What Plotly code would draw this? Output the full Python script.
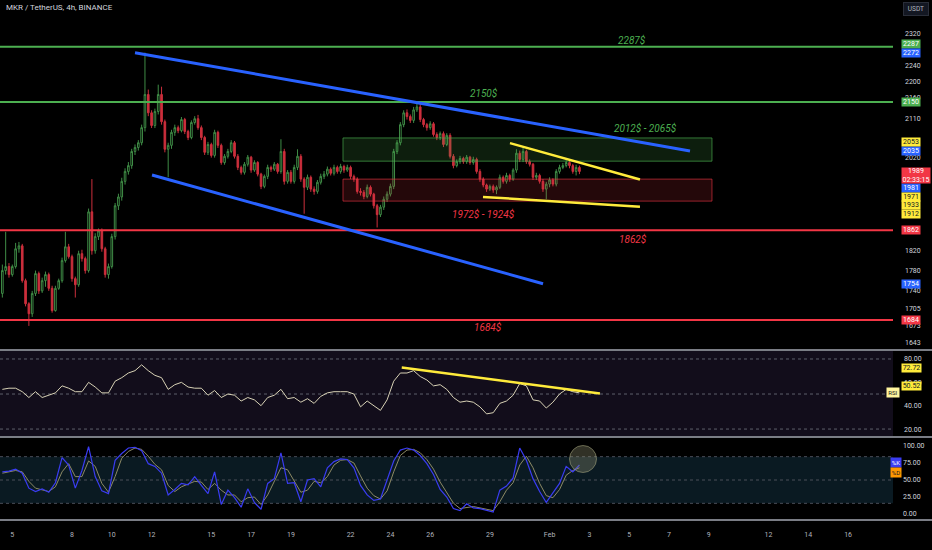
import math
import pandas as pd
import plotly.graph_objects as go

# MKR / USDT 4h candles (first candle 2024-01-04 12:00)
opens = [1735, 1780, 1788, 1772, 1788, 1824, 1830, 1760, 1715, 1696,
         1735, 1774, 1740, 1760, 1772, 1745, 1702, 1745, 1760, 1800,
         1828, 1808, 1764, 1752, 1814, 1804, 1780, 1901, 1820, 1849,
         1861, 1824, 1772, 1788, 1849, 1914, 1933, 1967, 1989, 2002,
         2034, 2043, 2054, 2089, 2168, 2124, 2094, 2127, 2168, 2103,
         2039, 2048, 2078, 2089, 2082, 2108, 2080, 2066, 2101, 2110,
         2089, 2066, 2032, 2050, 2025, 2078, 2048, 2009, 2023, 2034,
         2054, 2023, 1998, 1987, 2005, 2021, 1992, 2009, 1983, 1956,
         1978, 1998, 1994, 2005, 1989, 2034, 1967, 1987, 1967, 1998,
         2023, 1972, 1954, 1976, 1950, 1945, 1965, 1978, 1983, 1994,
         1985, 1998, 1989, 2000, 1992, 1998, 1978, 1972, 1945, 1943,
         1934, 1954, 1939, 1914, 1895, 1911, 1928, 1939, 1956, 2034,
         2054, 2096, 2124, 2115, 2106, 2131, 2138, 2108, 2096, 2089,
         2098, 2073, 2066, 2075, 2050, 2071, 2023, 2002, 2011, 2018,
         2011, 2021, 2009, 2016, 1989, 1972, 1959, 1950, 1956, 1948,
         1954, 1976, 1967, 1980, 1972, 1992, 2030, 2016, 2034, 2011,
         2005, 1976, 1980, 1967, 1950, 1961, 1970, 1961, 1989, 1998,
         2002, 2009, 2002, 1989, 1998]
closes = [1780, 1788, 1772, 1788, 1824, 1830, 1760, 1715, 1696, 1735,
          1774, 1740, 1760, 1772, 1745, 1702, 1745, 1760, 1800, 1828,
          1808, 1764, 1752, 1814, 1804, 1780, 1901, 1820, 1849, 1861,
          1824, 1772, 1788, 1849, 1914, 1933, 1967, 1989, 2002, 2034,
          2043, 2054, 2089, 2168, 2124, 2094, 2127, 2168, 2103, 2039,
          2048, 2078, 2089, 2082, 2108, 2080, 2066, 2101, 2110, 2089,
          2066, 2032, 2050, 2025, 2078, 2048, 2009, 2023, 2034, 2054,
          2023, 1998, 1987, 2005, 2021, 1992, 2009, 1983, 1956, 1978,
          1998, 1994, 2005, 1989, 2034, 1967, 1987, 1967, 1998, 2023,
          1972, 1954, 1976, 1950, 1945, 1965, 1978, 1983, 1994, 1985,
          1998, 1989, 2000, 1992, 1998, 1978, 1972, 1945, 1943, 1934,
          1954, 1939, 1914, 1895, 1911, 1928, 1939, 1956, 2034, 2054,
          2096, 2124, 2115, 2106, 2131, 2138, 2108, 2096, 2089, 2098,
          2073, 2066, 2075, 2050, 2071, 2023, 2002, 2011, 2018, 2011,
          2021, 2009, 2016, 1989, 1972, 1959, 1950, 1956, 1948, 1954,
          1976, 1967, 1980, 1972, 1992, 2030, 2016, 2034, 2011, 2005,
          1976, 1980, 1967, 1950, 1961, 1970, 1961, 1989, 1998, 2002,
          2009, 2002, 1989, 1998, 1989]
highs = [1792, 1859, 1795, 1792, 1836, 1838, 1834, 1764, 1718, 1740,
         1780, 1778, 1766, 1778, 1776, 1750, 1750, 1764, 1806, 1859,
         1834, 1812, 1768, 1820, 1822, 1808, 1908, 1972, 1856, 1866,
         1866, 1828, 1794, 1855, 1920, 1940, 1975, 1996, 2010, 2040,
         2050, 2060, 2096, 2272, 2180, 2130, 2134, 2192, 2187, 2108,
         2054, 2084, 2096, 2094, 2114, 2112, 2084, 2106, 2116, 2119,
         2094, 2070, 2056, 2054, 2084, 2082, 2052, 2028, 2040, 2060,
         2058, 2028, 2002, 2010, 2026, 2024, 2014, 2012, 1986, 1982,
         2004, 2002, 2010, 2008, 2062, 2040, 1992, 1992, 2004, 2039,
         2028, 1976, 1982, 1980, 1956, 1970, 1984, 1990, 2000, 1998,
         2004, 2002, 2006, 2004, 2004, 2002, 1982, 1976, 1952, 1948,
         1960, 1958, 1942, 1918, 1916, 1934, 1945, 1962, 2040, 2060,
         2102, 2130, 2132, 2120, 2138, 2150, 2146, 2112, 2100, 2104,
         2102, 2078, 2080, 2080, 2076, 2076, 2028, 2016, 2024, 2022,
         2026, 2024, 2022, 2020, 1994, 1976, 1962, 1960, 1960, 1958,
         1982, 1980, 1986, 1984, 1996, 2039, 2036, 2043, 2038, 2016,
         2008, 1986, 1984, 1972, 1966, 1976, 1974, 1994, 2004, 2008,
         2014, 2014, 2006, 2004, 2002]
lows = [1727, 1772, 1766, 1768, 1784, 1816, 1756, 1710, 1673, 1690,
        1730, 1734, 1736, 1748, 1740, 1698, 1700, 1742, 1756, 1796,
        1804, 1758, 1727, 1748, 1798, 1774, 1776, 1812, 1814, 1842,
        1818, 1766, 1764, 1784, 1843, 1905, 1925, 1960, 1982, 1995,
        2026, 2036, 2048, 2080, 2116, 2088, 2088, 2120, 2096, 2032,
        1976, 2040, 2070, 2076, 2078, 2074, 2060, 2062, 2096, 2084,
        2060, 2026, 2026, 2020, 2020, 2042, 2004, 2004, 2018, 2030,
        2018, 1992, 1982, 1982, 2000, 1986, 1988, 1978, 1950, 1952,
        1972, 1988, 1990, 1984, 1984, 1960, 1962, 1962, 1962, 1992,
        1966, 1897, 1948, 1944, 1938, 1940, 1960, 1972, 1978, 1980,
        1980, 1984, 1984, 1986, 1988, 1972, 1966, 1940, 1936, 1928,
        1930, 1934, 1908, 1868, 1890, 1905, 1922, 1934, 1950, 2028,
        2048, 2090, 2108, 2100, 2100, 2126, 2102, 2090, 2082, 2084,
        2068, 2060, 2060, 2044, 2046, 2018, 1996, 1998, 2006, 2006,
        2006, 2004, 2004, 1984, 1966, 1954, 1944, 1946, 1942, 1939,
        1950, 1962, 1962, 1966, 1968, 1986, 2010, 2010, 2006, 2000,
        1970, 1970, 1962, 1944, 1928, 1954, 1956, 1956, 1984, 1994,
        1998, 1996, 1984, 1980, 1983]

# indicators, read every second candle (8h)
rsi = [54, 55, 55, 52, 47, 52, 47, 49, 51, 57,
       55, 52, 52, 60, 56, 51, 51, 61, 64, 68,
       70, 75, 70, 66, 64, 54, 58, 60, 56, 55,
       55, 49, 53, 47, 50, 49, 44, 47, 45, 40,
       47, 49, 54, 46, 47, 43, 46, 42, 48, 51,
       52, 52, 52, 50, 39, 44, 40, 36, 45, 61,
       68, 68, 70, 65, 62, 57, 58, 54, 47, 43,
       44, 43, 39, 33, 34, 42, 44, 49, 59, 57,
       45, 44, 38, 43, 50, 54, 52, 51]
stoch_k = [62, 63, 66, 60, 38, 33, 37, 32, 46, 83,
           72, 38, 64, 99, 55, 34, 30, 79, 89, 97,
           98, 93, 74, 70, 60, 28, 36, 45, 43, 55,
           42, 30, 62, 14, 35, 24, 10, 37, 17, 7,
           45, 52, 90, 45, 46, 18, 50, 52, 40, 68,
           77, 81, 80, 68, 42, 28, 20, 22, 50, 78,
           94, 97, 94, 86, 74, 58, 36, 25, 8, 5,
           15, 9, 8, 5, 3, 35, 41, 53, 97, 79,
           52, 33, 17, 31, 45, 70, 62, 72]
stoch_d = [60, 62, 64, 62, 48, 38, 35, 33, 40, 62,
           74, 55, 55, 78, 70, 45, 32, 55, 82, 92,
           97, 95, 85, 73, 65, 42, 33, 40, 44, 48,
           47, 36, 45, 35, 28, 28, 18, 24, 25, 14,
           28, 47, 68, 65, 48, 32, 35, 48, 46, 55,
           72, 79, 80, 75, 56, 38, 27, 22, 34, 62,
           86, 94, 95, 90, 80, 66, 47, 31, 16, 8,
           10, 11, 9, 7, 5, 18, 35, 46, 72, 85,
           68, 45, 27, 24, 36, 57, 64, 68]

# drawings
green_levels = [2287, 2150]
red_levels = [1862, 1684]
supply_zone = [2012, 2065]
demand_zone = [1924, 1972]
zone_times = ["2024-01-21 14:50", "2024-02-09 03:50"]
channel_upper = (["2024-01-11 04:00", "2024-02-08 01:20"], [2272, 2035])
channel_lower = (["2024-01-12 00:30", "2024-01-31 16:05"], [1981, 1754])
wedge_upper = (["2024-01-30 00:15", "2024-02-05 13:00"], [2053, 1971])
wedge_lower = (["2024-01-28 15:40", "2024-02-05 13:00"], [1933, 1912])
rsi_trend = (["2024-01-24 13:40", "2024-02-03 12:45"], [72.72, 50.52])
last_price = 1989

x_range = ["2024-01-04 09:10", "2024-02-18 06:10"]
tick_dates = ["2024-01-05", "2024-01-08", "2024-01-10", "2024-01-12", "2024-01-15",
              "2024-01-17", "2024-01-19", "2024-01-22", "2024-01-24", "2024-01-26",
              "2024-01-29", "2024-02-01", "2024-02-03", "2024-02-05", "2024-02-07",
              "2024-02-09", "2024-02-12", "2024-02-14", "2024-02-16"]
tick_text = ["5", "8", "10", "12", "15", "17", "19", "22", "24", "26", "29",
             "Feb", "3", "5", "7", "9", "12", "14", "16"]
price_ticks = [2320, 2240, 2200, 2160, 2110, 2020, 1820, 1780, 1740, 1705, 1673, 1643]

times = pd.date_range("2024-01-04 12:00", periods=len(closes), freq="4h")
ind_times = times[::2]

GREEN = "#4caf50"
RED = "#f23645"
BLUE = "#2962ff"
YELLOW = "#ffeb3b"
FONT = "Roboto"
XD = 893 / 932

fig = go.Figure()

# zones
for zone, line_c, fill_c in [(supply_zone, "rgba(76,175,80,0.65)", "rgba(76,175,80,0.17)"),
                             (demand_zone, "rgba(242,54,69,0.6)", "rgba(242,54,69,0.15)")]:
    fig.add_trace(go.Scatter(
        x=[zone_times[0], zone_times[1], zone_times[1], zone_times[0], zone_times[0]],
        y=[zone[0], zone[0], zone[1], zone[1], zone[0]],
        mode="lines", fill="toself", fillcolor=fill_c,
        line=dict(color=line_c, width=1), hoverinfo="skip"))

# horizontal levels
for lv in green_levels:
    fig.add_trace(go.Scatter(x=x_range, y=[lv, lv], mode="lines",
                             line=dict(color=GREEN, width=2), hoverinfo="skip"))
for lv in red_levels:
    fig.add_trace(go.Scatter(x=x_range, y=[lv, lv], mode="lines",
                             line=dict(color=RED, width=2), hoverinfo="skip"))

fig.add_trace(go.Candlestick(
    x=times, open=opens, high=highs, low=lows, close=closes,
    increasing=dict(line=dict(color="#3f8c46", width=1), fillcolor="rgba(0,0,0,0)"),
    decreasing=dict(line=dict(color="#cc2f3c", width=1), fillcolor="#cc2f3c"),
    whiskerwidth=0, hoverinfo="skip"))

for (tx, ty), col, w in [(channel_upper, BLUE, 3), (channel_lower, BLUE, 3),
                         (wedge_upper, YELLOW, 2.5), (wedge_lower, YELLOW, 2.5)]:
    fig.add_trace(go.Scatter(x=tx, y=ty, mode="lines",
                             line=dict(color=col, width=w), hoverinfo="skip"))

# RSI pane
fig.add_trace(go.Scatter(x=ind_times, y=rsi, mode="lines", xaxis="x2", yaxis="y2",
                         line=dict(color="#d8d2b6", width=1), hoverinfo="skip"))
fig.add_trace(go.Scatter(x=rsi_trend[0], y=rsi_trend[1], mode="lines", xaxis="x2", yaxis="y2",
                         line=dict(color=YELLOW, width=2.5), hoverinfo="skip"))

# Stoch RSI pane
fig.add_trace(go.Scatter(x=ind_times, y=stoch_d, mode="lines", xaxis="x3", yaxis="y3",
                         line=dict(color="#8d8a66", width=1), hoverinfo="skip"))
fig.add_trace(go.Scatter(x=ind_times, y=stoch_k, mode="lines", xaxis="x3", yaxis="y3",
                         line=dict(color="#3a3cf2", width=1.2), hoverinfo="skip"))

shapes = [
    dict(type="rect", xref="paper", yref="paper", x0=0, x1=XD, y0=1 - 437 / 550, y1=1 - 350 / 550,
         fillcolor="#120d1b", line=dict(width=0), layer="below"),
    dict(type="rect", xref="paper", yref="y3", x0=0, x1=XD, y0=15.7, y1=84.3,
         fillcolor="#0a1a22", line=dict(width=0), layer="below"),
]
for v in [80, 50, 20]:
    shapes.append(dict(type="line", xref="paper", yref="y2", x0=0, x1=XD, y0=v, y1=v,
                       line=dict(color="#5d606b", width=1, dash="dot"), layer="below"))
for v in [84.3, 50, 15.7]:
    shapes.append(dict(type="line", xref="paper", yref="y3", x0=0, x1=XD, y0=v, y1=v,
                       line=dict(color="#4a4e58", width=1, dash="dot"), layer="below"))
for py in [350, 437, 520]:
    shapes.append(dict(type="line", xref="paper", yref="paper", x0=0, x1=1,
                       y0=1 - py / 550, y1=1 - py / 550, line=dict(color="#7a7d85", width=2)))
# highlight circle on stoch
shapes.append(dict(type="circle", xref="paper", yref="paper",
                   x0=(583 - 13.5) / 932, x1=(583 + 13.5) / 932,
                   y0=1 - (459 + 13.5) / 550, y1=1 - (459 - 13.5) / 550,
                   fillcolor="rgba(140,140,110,0.35)", line=dict(color="rgba(170,170,130,0.55)", width=1)))

ann = []


def tag(text, y, yref, bg, fg, shift=0, w=18, h=8, x=900.5, size=7):
    ann.append(dict(text=text, xref="paper", x=x / 932, xanchor="left", yref=yref, y=y,
                    yanchor="middle", yshift=shift, showarrow=False, bgcolor=bg,
                    width=w, height=h, borderpad=0, align="center",
                    font=dict(family=FONT, size=size, color=fg)))


shifts = {2287: 2.5, 2053: 1, 1981: -13, 1971: -17.5, 1933: -8, 1912: -7}
for v in green_levels:
    tag(str(v), math.log10(v), "y", GREEN, "white", shifts.get(v, 0))
for v in [channel_upper[1][0], channel_upper[1][1], channel_lower[1][0], channel_lower[1][1]]:
    tag(str(v), math.log10(v), "y", BLUE, "white", shifts.get(v, 0))
for v in [wedge_upper[1][0], wedge_upper[1][1], wedge_lower[1][0], wedge_lower[1][1]]:
    tag(str(v), math.log10(v), "y", YELLOW, "#131722", shifts.get(v, 0))
for v in red_levels:
    tag(str(v), math.log10(v), "y", RED, "white")
tag(str(last_price) + "<br>02:33:15", math.log10(last_price), "y", RED, "white",
    shift=-4, w=28, h=15)

tag("72.72", rsi_trend[1][0], "y2", YELLOW, "#131722", shift=-1, w=19)
tag("50.52", rsi_trend[1][1], "y2", YELLOW, "#131722", shift=7, w=19)
tag("RSI", rsi[-1], "y2", "#fff59d", "#131722", shift=0, w=12, h=9, x=886, size=6)
tag("%K", 75, "y3", "#3a3cf2", "white", w=10, h=9, x=890, size=6)
tag("%D", 60.5, "y3", "#ff9800", "#131722", w=10, h=9, x=890, size=6)

# drawing labels
labels = [("2287$", 632, 40, GREEN), ("2150$", 484, 93, GREEN),
          ("2012$ - 2065$", 645, 128, GREEN), ("1972$ - 1924$", 483, 214, RED),
          ("1862$", 633, 239, RED), ("1684$", 488, 327, RED)]
for txt, px, py, col in labels:
    ann.append(dict(text="<i>" + txt + "</i>", xref="paper", yref="paper", x=px / 932,
                    y=1 - py / 550, xanchor="center", yanchor="middle", showarrow=False,
                    font=dict(family=FONT, size=10, color=col)))

ann.append(dict(text="MKR / TetherUS, 4h, BINANCE", xref="paper", yref="paper", x=4 / 932,
                y=1 - 8 / 550, xanchor="left", yanchor="middle", showarrow=False,
                font=dict(family=FONT, size=8, color="#d1d4dc")))
ann.append(dict(text="USDT", xref="paper", yref="paper", x=916 / 932, y=1 - 9 / 550,
                xanchor="center", yanchor="middle", showarrow=False, bgcolor="#131722",
                bordercolor="#2a2e39", borderwidth=1, width=22, height=10, borderpad=1,
                font=dict(family=FONT, size=6.5, color="#b2b5be")))

axis_font = dict(family=FONT, size=7, color="#d1d4dc")
fig.update_layout(
    width=932, height=550, margin=dict(l=0, r=0, t=0, b=0),
    paper_bgcolor="#000000", plot_bgcolor="#000000", showlegend=False,
    shapes=shapes, annotations=ann,
    xaxis=dict(domain=[0, XD], range=x_range, type="date", anchor="y", showticklabels=False,
               showgrid=False, zeroline=False, rangeslider=dict(visible=False)),
    xaxis2=dict(domain=[0, XD], range=x_range, type="date", anchor="y2", matches="x",
                showticklabels=False, showgrid=False, zeroline=False),
    xaxis3=dict(domain=[0, XD], range=x_range, type="date", anchor="y3", matches="x",
                tickvals=tick_dates, ticktext=tick_text, showgrid=False, zeroline=False,
                ticks="", ticklabelstandoff=9, tickfont=dict(family=FONT, size=7, color="#b2b5be")),
    yaxis=dict(domain=[1 - 350 / 550, 1], type="log",
               range=[math.log10(1628.5), math.log10(2410)], side="right", anchor="x",
               tickvals=price_ticks, ticktext=[str(t) for t in price_ticks],
               showgrid=False, zeroline=False, ticks="", ticklabelstandoff=11, tickfont=axis_font),
    yaxis2=dict(domain=[1 - 437 / 550, 1 - 350 / 550], range=[13.2, 87.7], side="right",
                anchor="x2", tickvals=[80, 60, 40, 20],
                ticktext=["80.00", "60.00", "40.00", "20.00"], showgrid=False, zeroline=False,
                ticks="", ticklabelstandoff=10, tickfont=axis_font),
    yaxis3=dict(domain=[1 - 520 / 550, 1 - 437 / 550], range=[-8.8, 113.2], side="right",
                anchor="x3", tickvals=[100, 75, 50, 25, 0],
                ticktext=["100.00", "75.00", "50.00", "25.00", "0.00"], showgrid=False,
                zeroline=False, ticks="", ticklabelstandoff=9, tickfont=axis_font),
)

# the page body has a default 8px margin; drop it so the chart fills the window
fig.write_html("out.html", config={"displayModeBar": False},
               post_script="document.body.style.margin='0';document.body.style.background='#000';")
